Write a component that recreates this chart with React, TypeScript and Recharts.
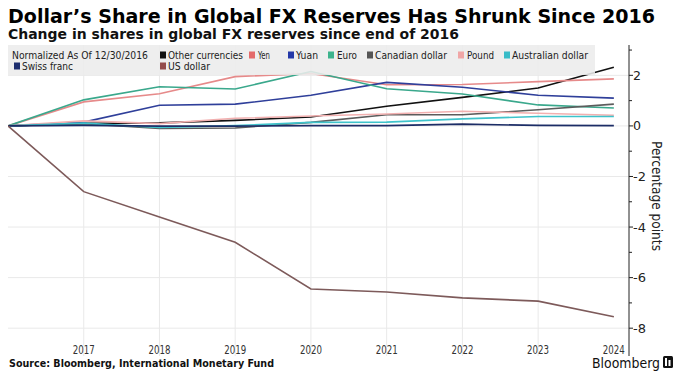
import React from 'react';
import { LineChart, Line, XAxis, YAxis, CartesianGrid } from 'recharts';

const years = [2016, 2017, 2018, 2019, 2020, 2021, 2022, 2023, 2024];
const otherCurrencies = [0, 0.1, 0.12, 0.22, 0.35, 0.78, 1.13, 1.5, 2.32];
const yen = [0, 0.95, 1.27, 1.95, 2.07, 1.63, 1.64, 1.75, 1.86];
const yuan = [0, 0.15, 0.82, 0.86, 1.21, 1.72, 1.53, 1.21, 1.1];
const euro = [0, 1.03, 1.55, 1.46, 2.15, 1.47, 1.26, 0.83, 0.71];
const canadianDollar = [0, 0.09, -0.1, -0.08, 0.14, 0.44, 0.44, 0.64, 0.86];
const pound = [0, 0.2, 0.09, 0.3, 0.39, 0.47, 0.58, 0.5, 0.42];
const australianDollar = [0, 0.11, -0.06, 0.01, 0.14, 0.15, 0.28, 0.37, 0.37];
const swissFranc = [0, 0.02, -0.01, -0.01, 0.01, 0.01, 0.07, 0.02, 0.01];
const usDollar = [0, -2.6, -3.6, -4.6, -6.45, -6.57, -6.8, -6.93, -7.55];

const xTicks = [2017, 2018, 2019, 2020, 2021, 2022, 2023, 2024];
const yTicks = [-8, -7, -6, -5, -4, -3, -2, -1, 0, 1, 2, 3];
const gridY = [-8, -6, -4, -2, 0, 2];
const gridX = [2017, 2018, 2019, 2020, 2021, 2022, 2023];

const seriesNames = ['Other currencies', 'Yen', 'Yuan', 'Euro', 'Canadian dollar', 'Pound', 'Australian dollar', 'Swiss franc', 'US dollar'];
const seriesValues = [otherCurrencies, yen, yuan, euro, canadianDollar, pound, australianDollar, swissFranc, usDollar];

const data = years.map((year, i) => {
  const row: Record<string, number> = { year };
  seriesNames.forEach((n, k) => { row[n] = seriesValues[k][i]; });
  return row;
});

const lineColors: Record<string, string> = {
  'Other currencies': '#111111',
  'Yen': '#e68a8a',
  'Yuan': '#2f3f9a',
  'Euro': '#3aa88c',
  'Canadian dollar': '#5c5c5c',
  'Pound': '#f2b0b0',
  'Australian dollar': '#3fc3cb',
  'Swiss franc': '#1c2d66',
  'US dollar': '#7d5a5a',
};
const legendColors: Record<string, string> = {
  'Other currencies': '#111111',
  'Yen': '#e46a6a',
  'Yuan': '#2438a8',
  'Euro': '#3db38c',
  'Canadian dollar': '#555555',
  'Pound': '#f0a6a6',
  'Australian dollar': '#38bcc8',
  'Swiss franc': '#1c2d6e',
  'US dollar': '#944c4c',
};

// legend layout: [name, squareX, textX, textWidth, row]
const legendLayout: [string, number, number, number, number][] = [
  ['Other currencies', 160, 168, 75, 0],
  ['Yen', 249, 258, 12, 0],
  ['Yuan', 288, 296, 22, 0],
  ['Euro', 328, 337, 20, 0],
  ['Canadian dollar', 367, 375, 72, 0],
  ['Pound', 458, 467, 27, 0],
  ['Australian dollar', 504, 512, 76, 0],
  ['Swiss franc', 14, 22, 51, 1],
  ['US dollar', 160, 168, 42, 1],
];

const FONT = "'DejaVu Sans', 'Liberation Sans', sans-serif";

const XTick = (props: any) => {
  const { x, y, payload } = props;
  return (
    <text x={x} y={y - 7} textAnchor="middle" dominantBaseline="central" fontSize={13} fill="#333"
      fontFamily={FONT} textLength={22} lengthAdjust="spacingAndGlyphs">{payload.value}</text>
  );
};

const YTick = (props: any) => {
  const { x, y, payload } = props;
  const v = payload.value;
  const major = v % 2 === 0;
  const label = String(v);
  return (
    <g>
      <line x1={x} x2={x + (major ? 4 : 3)} y1={y} y2={y} stroke="#222" strokeWidth={1} />
      {major && (
        <text x={x + 4} y={y} dominantBaseline="central" fontSize={13} fill="#222" fontFamily={FONT}
          textLength={label.length === 1 ? 8 : 13} lengthAdjust="spacingAndGlyphs">{label}</text>
      )}
    </g>
  );
};

export default function App() {
  return (
    <div style={{ position: 'absolute', left: 0, top: 0, width: 680, height: 379, background: '#fff', overflow: 'hidden' }}>
      <LineChart width={680} height={379} data={data} margin={{ top: 45, right: 0, bottom: 13, left: 8 }}>
        <CartesianGrid stroke="#e9e9e9" horizontalValues={gridY} verticalValues={gridX} />
        <XAxis dataKey="year" type="number" domain={[2016, 2024.2]} ticks={xTicks} allowDataOverflow
          axisLine={false} tickLine={false} tickSize={0} tickMargin={0} height={10} tick={<XTick />} interval={0} />
        <YAxis orientation="right" type="number" domain={[-9.1, 3.2]} ticks={yTicks} allowDataOverflow
          axisLine={{ stroke: '#222', strokeWidth: 1 }} tickLine={false} tickSize={0} tickMargin={0} width={51}
          tick={<YTick />} interval={0} />
        {seriesNames.map((n) => (
          <Line key={n} dataKey={n} type="linear" stroke={lineColors[n]} strokeWidth={1.6} dot={false}
            isAnimationActive={false} />
        ))}
      </LineChart>
      <svg width={680} height={379} style={{ position: 'absolute', left: 0, top: 0, pointerEvents: 'none' }}>
        <text x={8} y={22.5} fontSize={19.5} fontWeight="bold" fill="#000" fontFamily={FONT}
          textLength={647} lengthAdjust="spacingAndGlyphs">Dollar’s Share in Global FX Reserves Has Shrunk Since 2016</text>
        <text x={8} y={38.5} fontSize={13.5} fontWeight="bold" fill="#111" fontFamily={FONT}
          textLength={451} lengthAdjust="spacingAndGlyphs">Change in shares in global FX reserves since end of 2016</text>
        <rect x={8} y={45} width={587} height={30} fill="#ececec" fillOpacity={0.88} />
        <text x={12} y={55} dominantBaseline="central" fontSize={10.5} fill="#222" fontFamily={FONT}
          textLength={136} lengthAdjust="spacingAndGlyphs">Normalized As Of 12/30/2016</text>
        {legendLayout.map(([name, sx, tx, tw, row]) => {
          const cy = row === 0 ? 55 : 66;
          return (
            <g key={name}>
              <rect x={sx} y={cy - 3.5} width={6} height={7} fill={legendColors[name]} />
              <text x={tx} y={cy} dominantBaseline="central" fontSize={10.5} fill="#222" fontFamily={FONT}
                textLength={tw} lengthAdjust="spacingAndGlyphs">{name}</text>
            </g>
          );
        })}
        <text transform="translate(657,196) rotate(90)" textAnchor="middle" dominantBaseline="central"
          fontSize={14} fill="#222" fontFamily={FONT} textLength={110} lengthAdjust="spacingAndGlyphs">Percentage points</text>
        <text x={9} y={367} fontSize={11} fontWeight="bold" fill="#111" fontFamily={FONT}
          textLength={265} lengthAdjust="spacingAndGlyphs">Source: Bloomberg, International Monetary Fund</text>
        <text x={592} y={368} fontSize={14.5} fill="#111" fontFamily={FONT} fontWeight="500"
          textLength={68} lengthAdjust="spacingAndGlyphs">Bloomberg</text>
        <rect x={663} y={356} width={10} height={12} rx={1.5} fill="#111" />
        <rect x={665} y={358} width={2} height={8} fill="#fff" />
        <rect x={668.5} y={360} width={2} height={6} fill="#fff" />
      </svg>
    </div>
  );
}
